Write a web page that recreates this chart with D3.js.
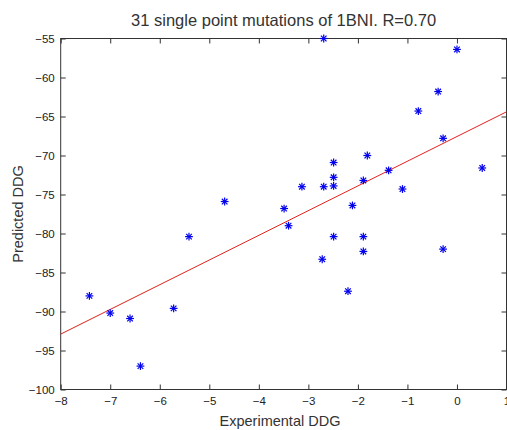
<!DOCTYPE html>
<html><head><meta charset="utf-8">
<script src="https://cdn.jsdelivr.net/npm/d3@7"></script>
<style>
html,body{margin:0;padding:0;background:#fff;}
svg text{font-family:"Liberation Sans",Arial,Helvetica,sans-serif;}
</style></head>
<body><div id="chart"></div>
<script>
const title = "31 single point mutations of 1BNI. R=0.70";
const xLabel = "Experimental DDG";
const yLabel = "Predicted DDG";
const expDDG = [-4.69, -2.69, 0.0, -0.38, -0.78, -0.28, -1.81, -2.49, -1.38, 0.51, -2.49, -1.89, -3.13, -2.69, -2.49, -1.10, -3.49, -2.11,
  -3.40, -2.49, -1.89, -2.72, -1.89, -0.28, -2.20, -5.41, -7.42, -7.00, -6.60, -5.72, -6.39];
const predDDG = [-75.9, -55.0, -56.4, -61.8, -64.3, -67.8, -70.0, -70.9, -71.9, -71.6, -72.8, -73.2, -74.0, -74.0, -73.9, -74.3, -76.8, -76.4,
  -79.0, -80.4, -80.4, -83.3, -82.3, -82.0, -87.4, -80.4, -88.0, -90.2, -90.9, -89.6, -97.0];
const fitX = [-8, 1];
const fitY = [-92.9, -64.4];
const xTicks = [-8, -7, -6, -5, -4, -3, -2, -1, 0, 1];
const yTicks = [-100, -95, -90, -85, -80, -75, -70, -65, -60, -55];

const W = 507, H = 430;
const m = {left: 60.7, right: 506.5, top: 38.5, bottom: 389.5};
const svg = d3.select("#chart").append("svg").attr("width", W).attr("height", H);
const x = d3.scaleLinear().domain([-8, 1]).range([m.left, m.right]);
const y = d3.scaleLinear().domain([-100, -55]).range([m.bottom, m.top]);
const axisColor = "#333";

// box
svg.append("rect").attr("x", m.left).attr("y", m.top)
  .attr("width", m.right - m.left).attr("height", m.bottom - m.top)
  .attr("fill", "#fff").attr("stroke", axisColor).attr("stroke-width", 1);

const tl = 5;
const axB = svg.append("g").attr("transform", `translate(0,${m.bottom})`)
  .call(d3.axisBottom(x).tickValues(xTicks).tickSize(-tl).tickPadding(tl + 4).tickFormat(d3.format("d")));
const axT = svg.append("g").attr("transform", `translate(0,${m.top})`)
  .call(d3.axisTop(x).tickValues(xTicks).tickSize(-tl).tickFormat(""));
const axL = svg.append("g").attr("transform", `translate(${m.left},0)`)
  .call(d3.axisLeft(y).tickValues(yTicks).tickSize(-tl).tickPadding(tl + 1).tickFormat(d3.format("d")));
const axR = svg.append("g").attr("transform", `translate(${m.right},0)`)
  .call(d3.axisRight(y).tickValues(yTicks).tickSize(-tl).tickFormat(""));
[axB, axT, axL, axR].forEach(g => {
  g.select(".domain").remove();
  g.selectAll(".tick line").attr("stroke", axisColor);
  g.selectAll("text").attr("fill", "#222").attr("font-size", 11.5);
});
axB.selectAll("text").attr("dy", "0.6em");

// fit line
svg.append("line")
  .attr("x1", x(fitX[0])).attr("y1", y(fitY[0]))
  .attr("x2", x(fitX[1])).attr("y2", y(fitY[1]))
  .attr("stroke", "#e0201c").attr("stroke-width", 1);

// star markers
const s = 3.9, d = 2.8;
const pts = svg.append("g").selectAll("g").data(d3.range(expDDG.length)).join("g")
  .attr("transform", i => `translate(${x(expDDG[i])},${y(predDDG[i])})`)
  .attr("stroke", "#0000ee").attr("stroke-width", 1.2);
pts.append("line").attr("x1", -s).attr("x2", s).attr("y1", 0).attr("y2", 0);
pts.append("line").attr("x1", 0).attr("x2", 0).attr("y1", -s).attr("y2", s);
pts.append("line").attr("x1", -d).attr("x2", d).attr("y1", -d).attr("y2", d);
pts.append("line").attr("x1", -d).attr("x2", d).attr("y1", d).attr("y2", -d);

// title and labels
svg.append("text").attr("x", (m.left + m.right) / 2).attr("y", 26)
  .attr("text-anchor", "middle").attr("font-size", 16.5).attr("fill", "#333").text(title);
svg.append("text").attr("x", 280).attr("y", 426)
  .attr("text-anchor", "middle").attr("font-size", 14.5).attr("fill", "#333").text(xLabel);
svg.append("text").attr("transform", `translate(23,${(m.top + m.bottom) / 2}) rotate(-90)`)
  .attr("text-anchor", "middle").attr("font-size", 14.5).attr("fill", "#333").text(yLabel);
</script></body></html>
